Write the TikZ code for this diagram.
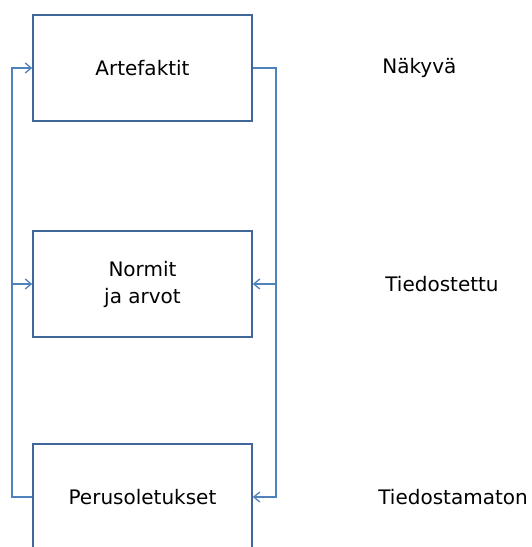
\documentclass[tikz,border=0pt]{standalone}
\usepackage{fontspec}
\setmainfont{DejaVu Sans}
\usepackage{xcolor}
\usepackage{tikz}
\usetikzlibrary{arrows.meta, positioning, calc}

\definecolor{boxline}{HTML}{41669A}
\definecolor{linkline}{HTML}{4F81BD}

\begin{document}
\begin{tikzpicture}[
    x=1pt, y=1pt,
    layer/.style={rectangle, draw=boxline, line width=1.6pt, fill=white, minimum width=219pt, minimum height=106pt, align=center, font=\fontsize{20}{27}\selectfont},
    level/.style={anchor=west, font=\fontsize{20}{24}\selectfont},
    link/.style={draw=linkline, line width=1.5pt},
    linkarrow/.style={link, -{Straight Barb[length=6pt, width=10pt, line width=1.3pt]}}
]

\useasboundingbox (0,0) rectangle (531,547);
\clip (0,0) rectangle (531,547);

% Layers
\node[layer] (artef)  at (142.5,479) {Artefaktit};
\node[layer] (normit) at (142.5,263) {Normit\\ja arvot};
\node[layer] (perus)  at (142.5,50)  {Perusoletukset};

% Level labels
\node[level] (nakyva) at ([xshift=126pt]artef.east)  {Näkyvä};
\node[level] (tied)   at ([xshift=129pt]normit.east) {Tiedostettu};
\node[level] (tiedam) at ([xshift=122pt]perus.east)  {Tiedostamaton};

% Feedback lines
\coordinate (lbus) at (12,0);
\coordinate (rbus) at (276,0);

\draw[linkarrow] (perus.west) -- (perus.west -| lbus) -- (artef.west -| lbus) -- (artef.west);
\draw[linkarrow] (normit.west -| lbus) -- (normit.west);

\draw[linkarrow] (artef.east) -- (artef.east -| rbus) -- (perus.east -| rbus) -- (perus.east);
\draw[linkarrow] (normit.east -| rbus) -- (normit.east);

\end{tikzpicture}
\end{document}
